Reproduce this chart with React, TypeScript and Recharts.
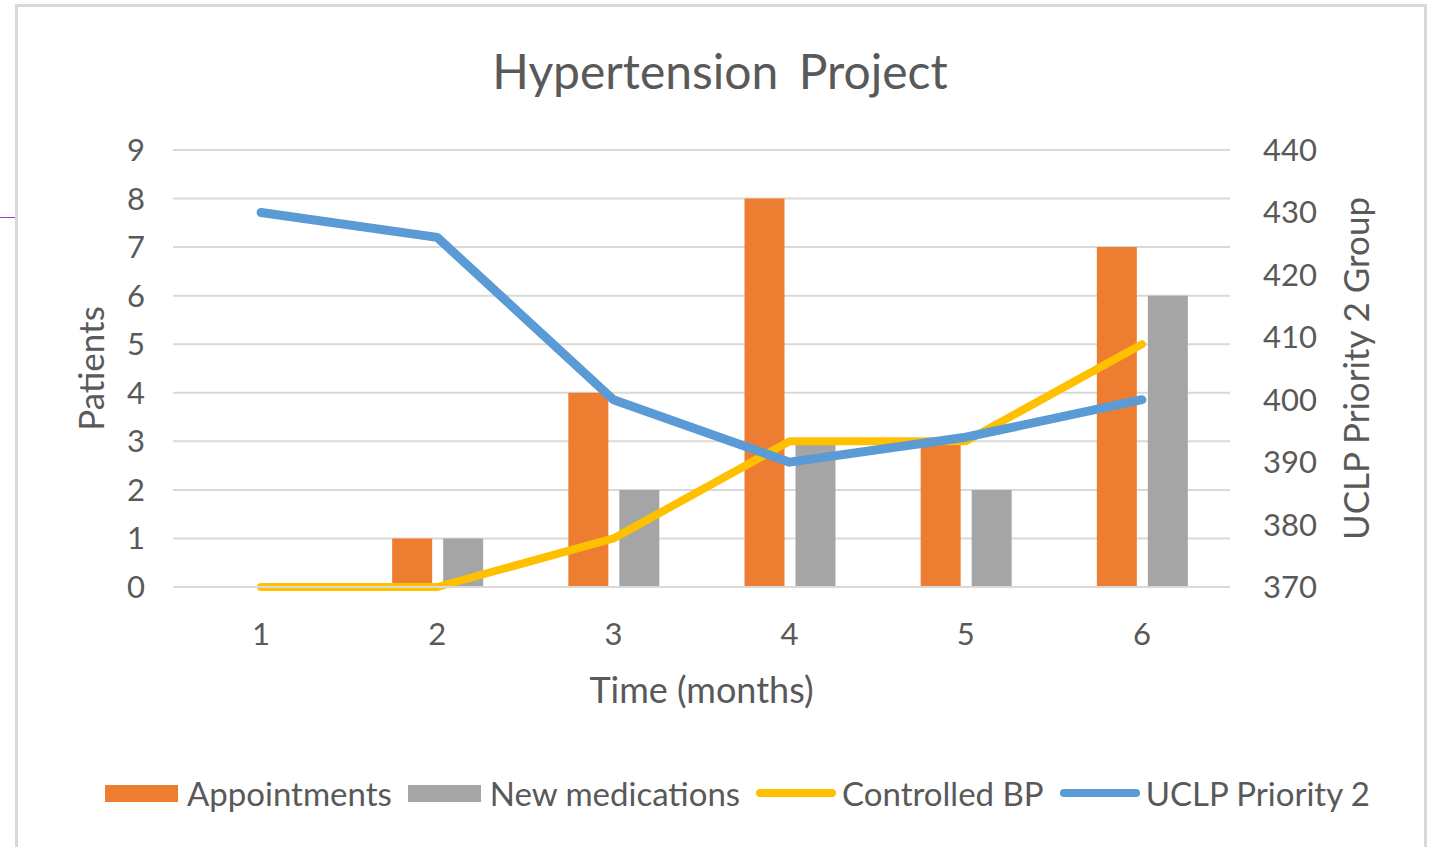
import React from "react";
import {
  ComposedChart,
  Bar,
  Line,
  XAxis,
  YAxis,
  CartesianGrid,
  Legend,
} from "recharts";

const months = ["1", "2", "3", "4", "5", "6"];
const appointments = [0, 1, 4, 8, 3, 7];
const newMedications = [0, 1, 2, 3, 2, 6];
const controlledBP = [0, 0, 1, 3, 3, 5];
const uclpPriority2 = [430, 426, 400, 390, 394, 400];

const leftTicks = [0, 1, 2, 3, 4, 5, 6, 7, 8, 9];
const rightTicks = [370, 380, 390, 400, 410, 420, 430, 440];

const data = months.map((m, i) => ({
  month: m,
  appointments: appointments[i],
  newMedications: newMedications[i],
  controlledBP: controlledBP[i],
  uclp: uclpPriority2[i],
}));

const FONT = "Lato, 'Open Sans', sans-serif";
const TEXT = "#595959";
const tickStyle = { fontSize: 31, fill: TEXT, fontFamily: FONT };

const legendItems = [
  { label: "Appointments", color: "#ED7D31", kind: "bar" },
  { label: "New medications", color: "#A5A5A5", kind: "bar" },
  { label: "Controlled BP", color: "#FFC000", kind: "line" },
  { label: "UCLP Priority 2", color: "#5B9BD5", kind: "line" },
];

function ChartLegend() {
  return (
    <div style={{ display: "flex", alignItems: "center", fontFamily: FONT }}>
      {legendItems.map((it) => (
        <div key={it.label} style={{ display: "flex", alignItems: "center", marginRight: 16 }}>
          {it.kind === "bar" ? (
            <div style={{ width: 73, height: 17, background: it.color }} />
          ) : (
            <div style={{ width: 80, height: 8, borderRadius: 4, background: it.color }} />
          )}
          <span style={{ fontSize: 33, color: TEXT, marginLeft: it.kind === "bar" ? 9 : 6 }}>{it.label}</span>
        </div>
      ))}
    </div>
  );
}

function VerticalTitle({ viewBox, value, posX }: any) {
  const cy = viewBox.y + viewBox.height / 2;
  return (
    <text
      x={posX}
      y={cy}
      transform={`rotate(-90, ${posX}, ${cy})`}
      textAnchor="middle"
      dominantBaseline="central"
      fontSize={35}
      fill={TEXT}
      fontFamily={FONT}
    >
      {value}
    </text>
  );
}

function BottomTitle({ viewBox, value }: any) {
  return (
    <text
      x={viewBox.x + viewBox.width / 2}
      y={703}
      textAnchor="middle"
      fontSize={36}
      fill={TEXT}
      fontFamily={FONT}
    >
      {value}
    </text>
  );
}

export default function App() {
  return (
    <div style={{ position: "absolute", left: 0, top: 0, width: 1435, height: 847, background: "#fff", overflow: "hidden" }}>
      <div
        style={{
          position: "absolute",
          left: 15,
          top: 4,
          width: 1406,
          height: 860,
          border: "3px solid #d9d9d9",
        }}
      />
      <div style={{ position: "absolute", left: 0, top: 217, width: 15, height: 1, background: "#8E44C8" }} />
      <div
        style={{
          position: "absolute",
          left: 0,
          width: 1440,
          top: 42,
          textAlign: "center",
          fontFamily: FONT,
          fontSize: 48,
          lineHeight: "58px",
          color: TEXT,
          wordSpacing: 8,
        }}
      >
        Hypertension Project
      </div>
      <ComposedChart
        width={1435}
        height={847}
        data={data}
        margin={{ top: 150, right: 75, bottom: 130, left: 73 }}
        barGap={11}
        style={{ position: "absolute", left: 0, top: 0 }}
      >
        <CartesianGrid yAxisId="left" vertical={false} stroke="#d9d9d9" strokeWidth={2} />
        <XAxis
          dataKey="month"
          height={130}
          tickLine={false}
          axisLine={{ stroke: "#d9d9d9", strokeWidth: 2 }}
          tick={tickStyle}
          tickMargin={30}
          label={<BottomTitle value="Time (months)" />}
        />
        <YAxis
          yAxisId="left"
          width={100}
          domain={[0, 9]}
          ticks={leftTicks}
          interval={0}
          tickLine={false}
          axisLine={false}
          tick={tickStyle}
          tickMargin={22}
          label={<VerticalTitle value="Patients" posX={90} />}
        />
        <YAxis
          yAxisId="right"
          orientation="right"
          width={130}
          domain={[370, 440]}
          ticks={rightTicks}
          interval={0}
          tickLine={false}
          axisLine={false}
          tick={tickStyle}
          tickMargin={27}
          label={<VerticalTitle value="UCLP Priority 2 Group" posX={1355} />}
        />
        <Bar yAxisId="left" dataKey="appointments" fill="#ED7D31" barSize={40} isAnimationActive={false} />
        <Bar yAxisId="left" dataKey="newMedications" fill="#A5A5A5" barSize={40} isAnimationActive={false} />
        <Line
          yAxisId="left"
          type="linear"
          dataKey="controlledBP"
          stroke="#FFC000"
          strokeWidth={8}
          strokeLinecap="round"
          strokeLinejoin="round"
          dot={false}
          activeDot={false}
          isAnimationActive={false}
        />
        <Line
          yAxisId="right"
          type="linear"
          dataKey="uclp"
          stroke="#5B9BD5"
          strokeWidth={9}
          strokeLinecap="round"
          strokeLinejoin="round"
          dot={false}
          activeDot={false}
          isAnimationActive={false}
        />
        <Legend
          layout="horizontal"
          align="center"
          verticalAlign="middle"
          content={<ChartLegend />}
          wrapperStyle={{ left: 105, top: 773, width: 1320, height: 44 }}
        />
      </ComposedChart>
    </div>
  );
}
